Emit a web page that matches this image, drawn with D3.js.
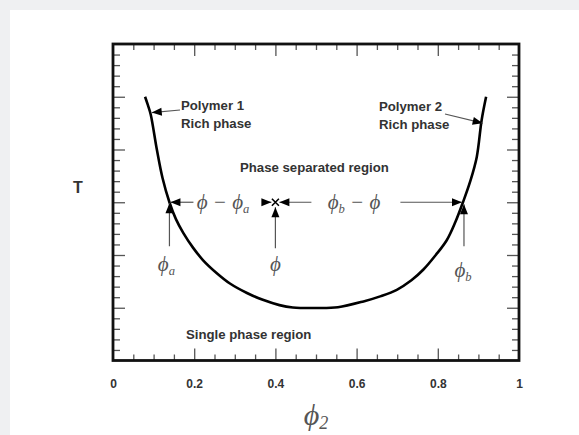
<!DOCTYPE html>
<html>
<head>
<meta charset="utf-8">
<script src="https://cdn.jsdelivr.net/npm/d3@7"></script>
<style>
  html, body { margin: 0; padding: 0; background: #eff0f2; }
  svg { display: block; }
  .lbl { font-family: "Liberation Sans", Arial, sans-serif; font-weight: bold; fill: #333; }
  .math { font-family: "Liberation Serif", "Times New Roman", serif; font-style: italic; fill: #555; }
</style>
</head>
<body>
<svg width="579" height="435"></svg>
<script>
// binodal curve
var phiVals = [0.079, 0.086, 0.093, 0.108, 0.122, 0.139, 0.155, 0.173, 0.197, 0.222, 0.255, 0.288, 0.33, 0.369, 0.41, 0.443, 0.5, 0.554, 0.617, 0.66, 0.699, 0.735, 0.764, 0.795, 0.822, 0.843, 0.862, 0.88, 0.896, 0.908, 0.919];
var tVals   = [25.0, 24.2, 23.3, 20.0, 17.3, 15.0, 13.4, 12.1, 10.7, 9.5, 8.3, 7.3, 6.4, 5.75, 5.25, 5.03, 4.98, 5.05, 5.6, 6.1, 6.7, 7.6, 8.6, 10.0, 11.4, 13.1, 15.0, 17.0, 19.3, 22.8, 25.0];

var xTickVals = [0, 0.2, 0.4, 0.6, 0.8, 1];
var xTickLabels = ["0", "0.2", "0.4", "0.6", "0.8", "1"];

// tie line
var tieT = 15;
var phiA = 0.139, phiMix = 0.4, phiB = 0.862;

var PHI = "\u03d5";

var svg = d3.select("svg");
svg.append("rect").attr("x", 10).attr("y", 10).attr("width", 569).attr("height", 425).attr("fill", "#fff");

var margin = {top: 44, left: 113};
var width = 406, height = 316.5;

var x = d3.scaleLinear().domain([0, 1]).range([margin.left, margin.left + width]);
var y = d3.scaleLinear().domain([0, 30]).range([margin.top + height, margin.top]);

var minorX = d3.range(0, 1.0001, 0.05).filter(function(d) { return Math.abs(d * 5 - Math.round(d * 5)) > 1e-6; });
var minorY = d3.range(1, 30).filter(function(d) { return d % 5 != 0; });
var majorY = [5, 10, 15, 20, 25];

function tickAxis(axis, vals, size, tx, ty) {
    var a = svg.append("g")
        .attr("transform", "translate(" + tx + "," + ty + ")")
        .call(axis.tickValues(vals).tickSize(size).tickFormat(""));
    a.select(".domain").remove();
    a.selectAll("line").attr("stroke", "#555").attr("stroke-width", 1.3);
}
var yB = margin.top + height, xR = margin.left + width;
tickAxis(d3.axisBottom(x), minorX, -6, 0, yB);
tickAxis(d3.axisBottom(x), xTickVals.slice(1, -1), -12, 0, yB);
tickAxis(d3.axisTop(x), minorX, -6, 0, margin.top);
tickAxis(d3.axisTop(x), xTickVals.slice(1, -1), -12, 0, margin.top);
tickAxis(d3.axisLeft(y), minorY, -7, margin.left, 0);
tickAxis(d3.axisLeft(y), majorY, -12, margin.left, 0);
tickAxis(d3.axisRight(y), minorY, -7, xR, 0);
tickAxis(d3.axisRight(y), majorY, -12, xR, 0);

// tick labels
var lab = svg.append("g")
    .attr("transform", "translate(0," + (yB + 16) + ")")
    .call(d3.axisBottom(x).tickValues(xTickVals).tickSize(0)
        .tickFormat(function(d, i) { return xTickLabels[i]; }));
lab.select(".domain").remove();
lab.selectAll("text").attr("class", "lbl").attr("font-size", 12).attr("fill", "#333");

svg.append("rect")
    .attr("x", margin.left).attr("y", margin.top)
    .attr("width", width).attr("height", height)
    .attr("fill", "none").attr("stroke", "#111").attr("stroke-width", 2.8);

// curve
var pts = phiVals.map(function(d, i) { return [d, tVals[i]]; });
svg.append("path")
    .datum(pts)
    .attr("d", d3.line().x(function(d) { return x(d[0]); }).y(function(d) { return y(d[1]); }).curve(d3.curveCatmullRom.alpha(0.5)))
    .attr("fill", "none").attr("stroke", "#000").attr("stroke-width", 2.6);

// arrows
function arrow(x1, y1, x2, y2) {
    svg.append("line").attr("x1", x1).attr("y1", y1).attr("x2", x2).attr("y2", y2)
        .attr("stroke", "#555").attr("stroke-width", 1.2);
    var ang = Math.atan2(y2 - y1, x2 - x1), L = 10, W = 4;
    var bx = x2 - L * Math.cos(ang), by = y2 - L * Math.sin(ang);
    var px = -Math.sin(ang) * W, py = Math.cos(ang) * W;
    svg.append("path")
        .attr("d", "M" + x2 + "," + y2 + "L" + (bx + px) + "," + (by + py) + "L" + (bx - px) + "," + (by - py) + "Z")
        .attr("fill", "#000");
}
var ty = y(tieT), xa = x(phiA), xm = x(phiMix), xb = x(phiB);
arrow(xa + 24, ty, xa + 1, ty);
arrow(xm - 13, ty, xm - 4, ty);
arrow(xm + 36, ty, xm + 4, ty);
arrow(xm + 125, ty, xb - 1, ty);
arrow(xa, ty + 44, xa, ty + 1);
arrow(xm, ty + 46, xm, ty + 5);
arrow(xb + 1, ty + 44, xb + 1, ty + 2);

// the mixture point
svg.append("path")
    .attr("d", "M" + (xm - 3.5) + "," + (ty - 3.5) + "L" + (xm + 3.5) + "," + (ty + 3.5) +
               "M" + (xm - 3.5) + "," + (ty + 3.5) + "L" + (xm + 3.5) + "," + (ty - 3.5))
    .attr("stroke", "#000").attr("stroke-width", 1.6);

// annotation arrows to the phases
arrow(180, 110, x(0.093) + 1, y(23.5));
arrow(445, 114, x(0.908) + 1, y(22.5));

function mathText(tx, tyy, parts, size, anchor) {
    var t = svg.append("text").attr("class", "math").attr("x", tx).attr("y", tyy)
        .attr("font-size", size).attr("text-anchor", anchor || "middle");
    parts.forEach(function(p) {
        var s = t.append("tspan").text(p[0]);
        if (p[1] == "sub") s.attr("font-size", size * 0.6).attr("dy", 4);
        if (p[1] == "up") s.attr("dy", -4);
    });
    return t;
}
mathText(223, ty + 7, [[PHI + " \u2212 " + PHI], ["a", "sub"]], 21);
mathText(354, ty + 7, [[PHI], ["b", "sub"], [" \u2212 " + PHI, "up"]], 21);
mathText(xa - 3, ty + 69, [[PHI], ["a", "sub"]], 21);
mathText(xm, ty + 69, [[PHI]], 21);
mathText(xb, ty + 75, [[PHI], ["b", "sub"]], 21);
mathText(x(0.5), 425, [[PHI], ["2", "sub"]], 30).attr("fill", "#333");

function lbl(tx, tyy, s, size, anchor) {
    svg.append("text").attr("class", "lbl").attr("x", tx).attr("y", tyy)
        .attr("font-size", size).attr("text-anchor", anchor || "start").text(s);
}
lbl(181, 110, "Polymer 1", 13.2);
lbl(181, 128, "Rich phase", 13.2);
lbl(379, 111, "Polymer 2", 13.2);
lbl(379, 129, "Rich phase", 13.2);
lbl(240, 172, "Phase separated region", 13.2);
lbl(186, 339, "Single phase region", 13.2);
lbl(78, 193, "T", 16, "middle");
</script>
</body>
</html>
